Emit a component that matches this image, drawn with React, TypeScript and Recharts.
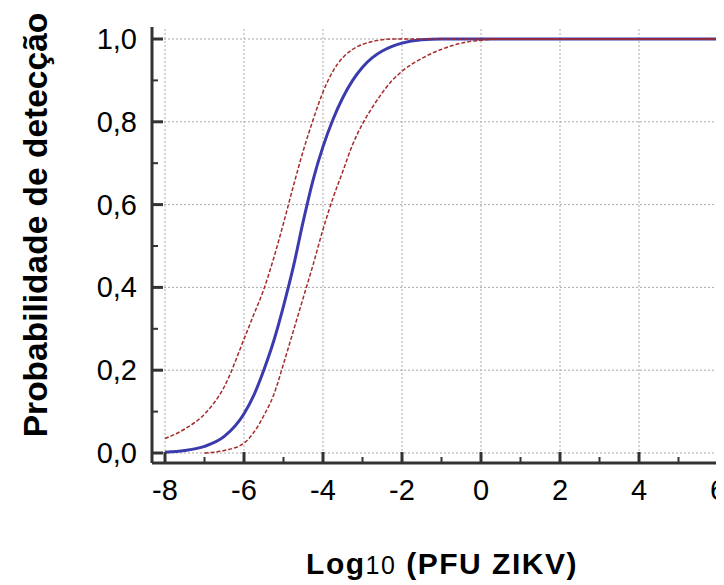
import React from 'react';
import { LineChart, Line, XAxis, YAxis, ReferenceLine } from 'recharts';

// log10 PFU values where the curves were read
const logPfu = [-8, -7.5, -7, -6.5, -6, -5.75, -5.5, -5.25, -5, -4.75, -4.5, -4.25, -4, -3.75, -3.5, -3.25, -3, -2.75, -2.5, -2.25, -2, -1.5, -1, -0.5, 0, 0.5, 1, 2, 4, 6];

// fitted detection probability (blue) and confidence limits (red dashed)
const fitted = [0.002, 0.006, 0.016, 0.04, 0.095, 0.14, 0.2, 0.27, 0.355, 0.45, 0.56, 0.66, 0.74, 0.805, 0.858, 0.9, 0.932, 0.955, 0.971, 0.982, 0.99, 0.998, 1, 1, 1, 1, 1, 1, 1, 1];
const upperLimit = [0.035, 0.058, 0.094, 0.16, 0.275, 0.335, 0.395, 0.47, 0.555, 0.645, 0.73, 0.805, 0.872, 0.922, 0.955, 0.975, 0.987, 0.994, 0.998, 1, 1, 1, 1, 1, 1, 1, 1, 1, 1, 1];
const lowerLimit = [null, null, 0, 0.006, 0.024, 0.05, 0.09, 0.14, 0.215, 0.295, 0.375, 0.455, 0.54, 0.615, 0.68, 0.745, 0.795, 0.835, 0.87, 0.9, 0.922, 0.953, 0.975, 0.99, 0.997, 1, 1, 1, 1, 1];

const xTicks = [-8, -7, -6, -5, -4, -3, -2, -1, 0, 1, 2, 3, 4, 5, 6];
const xGrid = [-8, -6, -4, -2, 0, 2, 4, 6];
const yTicks = [0, 0.1, 0.2, 0.3, 0.4, 0.5, 0.6, 0.7, 0.8, 0.9, 1];
const yGrid = [0, 0.2, 0.4, 0.6, 0.8, 1];

const data = logPfu.map((x, i) => ({
  x,
  fitted: fitted[i],
  upper: upperLimit[i],
  lower: lowerLimit[i],
}));

const FONT = '"Liberation Sans", Arial, sans-serif';
const AXIS = '#333';

const XTick = (props: any) => {
  const { x, y, payload } = props;
  const major = payload.value % 2 === 0;
  return (
    <g>
      <line x1={x} y1={y} x2={x} y2={y - (major ? 11 : 6)} stroke={AXIS} strokeWidth={major ? 3 : 2} />
      {major && (
        <text x={x} y={y + 37} textAnchor="middle" fontSize={29} fontFamily={FONT} fill="#000">
          {payload.value}
        </text>
      )}
    </g>
  );
};

const YTick = (props: any) => {
  const { x, y, payload } = props;
  const major = Math.round(payload.value * 10) % 2 === 0;
  return (
    <g>
      <line x1={x} y1={y} x2={x + (major ? 11 : 6)} y2={y} stroke={AXIS} strokeWidth={major ? 3 : 2} />
      {major && (
        <text x={x - 15} y={y + 10} textAnchor="end" fontSize={29} fontFamily={FONT} fill="#000">
          {payload.value.toFixed(1).replace('.', ',')}
        </text>
      )}
    </g>
  );
};

const XTitle = (props: any) => {
  const { viewBox } = props;
  const cx = viewBox.x + viewBox.width / 2 + 6;
  return (
    <text x={cx} y={viewBox.y + 111} textAnchor="middle" fontFamily={FONT} fontWeight="bold" fontSize={30} letterSpacing={1.5} fill="#000">
      <tspan>Log</tspan>
      <tspan fontSize={25} fontWeight="normal">10</tspan>
      <tspan> (PFU ZIKV)</tspan>
    </text>
  );
};

const YTitle = (props: any) => {
  const { viewBox } = props;
  const cx = viewBox.x + 39;
  const cy = 217;
  return (
    <text x={cx} y={cy} transform={`rotate(-90, ${cx}, ${cy})`} textAnchor="middle" fontFamily={FONT} fontWeight="bold" fontSize={33.5} fill="#000">
      Probabilidade de detecção
    </text>
  );
};

export default function App() {
  return (
    <LineChart width={716} height={577} data={data} margin={{ top: 19, right: 4, left: 0, bottom: 0 }}>
      {xGrid.map((v) => (
        <ReferenceLine key={'gx' + v} x={v} stroke="#aaa" strokeDasharray="2 2" strokeWidth={1} />
      ))}
      {yGrid.map((v) => (
        <ReferenceLine key={'gy' + v} y={v} stroke="#aaa" strokeDasharray="2 2" strokeWidth={1} />
      ))}
      <XAxis
        type="number"
        dataKey="x"
        domain={[-8, 6]}
        ticks={xTicks}
        interval={0}
        padding={{ left: 13, right: 2 }}
        height={122}
        tickSize={0}
        tickMargin={0}
        tickLine={false}
        tick={XTick}
        axisLine={{ stroke: AXIS, strokeWidth: 3 }}
        label={<XTitle />}
      />
      <YAxis
        type="number"
        domain={[0, 1]}
        ticks={yTicks}
        interval={0}
        padding={{ top: 12, bottom: 10 }}
        width={144}
        tickSize={0}
        tickMargin={0}
        tickLine={false}
        tick={YTick}
        axisLine={{ stroke: AXIS, strokeWidth: 3 }}
        label={<YTitle />}
      />
      <Line type="monotone" dataKey="fitted" stroke="#3b3bae" strokeWidth={3} dot={false} isAnimationActive={false} />
      <Line type="monotone" dataKey="upper" stroke="#a52a2a" strokeWidth={1.5} strokeDasharray="4 2" dot={false} isAnimationActive={false} />
      <Line type="monotone" dataKey="lower" stroke="#a52a2a" strokeWidth={1.5} strokeDasharray="4 2" dot={false} isAnimationActive={false} />
    </LineChart>
  );
}
